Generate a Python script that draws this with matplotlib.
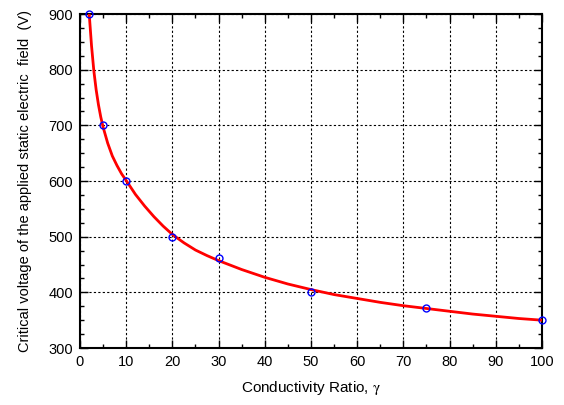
import matplotlib
matplotlib.use('Agg')
import matplotlib.pyplot as plt
from matplotlib.ticker import MultipleLocator

# measured points
gamma = [2, 5, 10, 20, 30, 50, 75, 100]
voltage = [900, 700, 600, 500, 461, 400, 371, 351]

# fitted curve
fit_x = [2, 2.5, 3, 3.5, 4, 4.5, 5, 6, 7, 8, 9, 10, 12, 14, 16, 18, 20, 22.5,
         25, 27.5, 30, 35, 40, 45, 50, 55, 60, 65, 70, 75, 80, 85, 90, 95, 100]
fit_y = [900, 843, 798, 764, 737, 715, 697, 668, 645, 628, 613, 601, 576, 555,
         536, 519, 504, 489, 476, 466, 457, 441, 427, 415, 405, 396, 389, 382,
         376, 371, 366, 361, 357, 353, 350]

plt.rcParams['font.family'] = ['Liberation Sans', 'DejaVu Sans']
plt.rcParams['mathtext.fontset'] = 'stix'

fig = plt.figure(figsize=(5.64, 4.05), dpi=100)
ax = fig.add_axes([0.1418, 0.1407, 0.8192, 0.8247])

ax.plot(fit_x, fit_y, color='red', lw=2, zorder=3)
ax.plot(gamma, voltage, 'o', mfc='none', mec='blue', ms=5, mew=1, zorder=4,
        clip_on=False)

ax.set_xlim(0, 100)
ax.set_ylim(300, 900)
ax.xaxis.set_major_locator(MultipleLocator(10))
ax.xaxis.set_minor_locator(MultipleLocator(5))
ax.yaxis.set_major_locator(MultipleLocator(100))
ax.yaxis.set_minor_locator(MultipleLocator(25))
ax.tick_params(which='both', direction='in', top=True, right=True,
               labelsize=10.5, width=1)
ax.tick_params(which='major', length=6, pad=5)
ax.tick_params(which='minor', length=3)
ax.grid(True, which='major', color='black', ls=(0, (2, 2)), lw=0.8)
for s in ax.spines.values():
    s.set_linewidth(1.5)

ax.set_xlabel(r'Conductivity Ratio, $\mathrm{\gamma}$', fontsize=11, labelpad=7)
ax.set_ylabel('Critical voltage of the applied static electric  field  (V)',
              fontsize=10.5, labelpad=12)

fig.savefig('out.png', dpi=100)
